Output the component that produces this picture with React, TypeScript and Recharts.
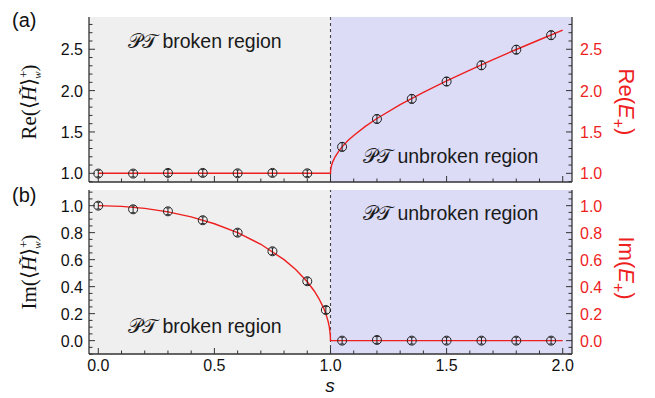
import React from "react";
import {
  ComposedChart,
  Line,
  Scatter,
  ErrorBar,
  XAxis,
  YAxis,
  ReferenceArea,
  ReferenceLine,
} from "recharts";

// measured points (a) Re part
const rePointS = [0, 0.15, 0.3, 0.45, 0.6, 0.75, 0.9, 1.05, 1.2, 1.35, 1.5, 1.65, 1.8, 1.95];
const reValues = [0.997, 0.997, 1.005, 1.005, 1.0, 1.005, 1.0, 1.32, 1.657, 1.9, 2.11, 2.306, 2.495, 2.67];
const reErrors = [0.04, 0.04, 0.04, 0.04, 0.04, 0.04, 0.04, 0.05, 0.05, 0.05, 0.05, 0.05, 0.05, 0.05];

// measured points (b) Im part
const imPointS = [0, 0.15, 0.3, 0.45, 0.6, 0.75, 0.9, 0.98, 1.05, 1.2, 1.35, 1.5, 1.65, 1.8, 1.95];
const imValues = [1.0, 0.973, 0.958, 0.892, 0.8, 0.662, 0.44, 0.227, 0.0, 0.005, 0.0, 0.0, 0.0, 0.0, 0.0];
const imErrors = [0.025, 0.025, 0.025, 0.025, 0.025, 0.025, 0.025, 0.025, 0.025, 0.025, 0.025, 0.025, 0.025, 0.025, 0.025];

// theory curves (red)
const reCurveS = [0, 0.5, 1.0, 1.0005, 1.002, 1.005, 1.01, 1.02, 1.035, 1.05, 1.075, 1.1, 1.15, 1.2, 1.3, 1.4, 1.5, 1.6, 1.7, 1.8, 1.9, 2.0];
const reCurveY = [1.0, 1.0, 1.0, 1.032, 1.063, 1.1, 1.142, 1.2, 1.266, 1.32, 1.396, 1.458, 1.568, 1.663, 1.831, 1.98, 2.118, 2.249, 2.375, 2.497, 2.615, 2.732];
const imCurveS = [0, 0.1, 0.2, 0.3, 0.4, 0.5, 0.6, 0.7, 0.8, 0.85, 0.9, 0.93, 0.95, 0.97, 0.98, 0.99, 0.995, 0.999, 1.0, 1.5, 2.0];
const imCurveY = [1.0, 0.995, 0.98, 0.954, 0.917, 0.866, 0.8, 0.714, 0.6, 0.527, 0.436, 0.368, 0.312, 0.243, 0.199, 0.141, 0.1, 0.045, 0.0, 0.0, 0.0];

// ticks
const xTicks = [0, 0.1, 0.2, 0.3, 0.4, 0.5, 0.6, 0.7, 0.8, 0.9, 1.0, 1.1, 1.2, 1.3, 1.4, 1.5, 1.6, 1.7, 1.8, 1.9, 2.0];
const reTicks = [0.9, 1.0, 1.1, 1.2, 1.3, 1.4, 1.5, 1.6, 1.7, 1.8, 1.9, 2.0, 2.1, 2.2, 2.3, 2.4, 2.5, 2.6, 2.7, 2.8];
const imTicks = [-0.1, -0.05, 0, 0.05, 0.1, 0.15, 0.2, 0.25, 0.3, 0.35, 0.4, 0.45, 0.5, 0.55, 0.6, 0.65, 0.7, 0.75, 0.8, 0.85, 0.9, 0.95, 1.0, 1.05, 1.1];

const xDomain = [-0.04, 2.04];
const reDomain = [0.895, 2.89];
const imDomain = [-0.099, 1.116];

const RED = "#ee1f1f";
const FRAME = "#333";
const TICK_FONT = "'Liberation Sans', Arial, sans-serif";

const pts = (s: number[], y: number[], e?: number[]) =>
  s.map((v, i) => ({ s: v, y: y[i], err: e ? e[i] : 0 }));

const isMajor = (v: number, step: number) =>
  Math.abs(v / step - Math.round(v / step)) < 1e-6;

const makeTick = (side: "bottom" | "top" | "left" | "right", step: number, labels: boolean, color = "#111", digits = 1) =>
  (props: any) => {
    const { x, y, payload } = props;
    const v = payload.value;
    const major = isMajor(v, step);
    const len = major ? 6 : 3.5;
    let line;
    let label = null;
    if (side === "bottom") {
      line = <line x1={x} x2={x} y1={y} y2={y - len} stroke={FRAME} strokeWidth={1} />;
      if (labels && major)
        label = <text x={x} y={y + 17} textAnchor="middle" fontSize={16} fontFamily={TICK_FONT} fill={color}>{v.toFixed(digits)}</text>;
    } else if (side === "top") {
      line = <line x1={x} x2={x} y1={y} y2={y + len} stroke={FRAME} strokeWidth={1} />;
    } else if (side === "left") {
      line = <line x1={x} x2={x + len} y1={y} y2={y} stroke={FRAME} strokeWidth={1} />;
      if (labels && major)
        label = <text x={x - 6} y={y + 6} textAnchor="end" fontSize={16} fontFamily={TICK_FONT} fill={color}>{v.toFixed(digits)}</text>;
    } else {
      line = <line x1={x} x2={x - len} y1={y} y2={y} stroke={FRAME} strokeWidth={1} />;
      if (labels && major)
        label = <text x={x + 8} y={y + 6} textAnchor="start" fontSize={16} fontFamily={TICK_FONT} fill={color}>{v.toFixed(digits)}</text>;
    }
    return (
      <g>
        {line}
        {label}
      </g>
    );
  };

const Marker = (p: any) => (
  <circle cx={p.cx} cy={p.cy} r={4.5} fill="none" stroke="#222" strokeWidth={1} />
);

type PanelProps = {
  height: number;
  marginTop: number;
  bottomAxisHeight: number;
  yDomain: number[];
  yTicks: number[];
  yStep: number;
  xLabels: boolean;
  curve: { s: number; y: number; err: number }[];
  points: { s: number; y: number; err: number }[];
};

const Panel = ({ height, marginTop, bottomAxisHeight, yDomain, yTicks, yStep, xLabels, curve, points }: PanelProps) => (
  <ComposedChart width={655} height={height} margin={{ top: marginTop, right: 0, bottom: 0, left: 0 }}>
    <XAxis xAxisId="b" type="number" dataKey="s" domain={xDomain} allowDataOverflow ticks={xTicks} interval={0}
      height={bottomAxisHeight} tickSize={0} tickMargin={0} tickLine={false}
      axisLine={{ stroke: FRAME, strokeWidth: 1.3 }} tick={makeTick("bottom", 0.5, xLabels)} />
    <XAxis xAxisId="t" orientation="top" type="number" dataKey="s" domain={xDomain} allowDataOverflow ticks={xTicks} interval={0}
      height={0} tickSize={0} tickMargin={0} tickLine={false}
      axisLine={{ stroke: FRAME, strokeWidth: 1.3 }} tick={makeTick("top", 0.5, false)} />
    <YAxis yAxisId="l" type="number" domain={yDomain} allowDataOverflow ticks={yTicks} interval={0}
      width={89} tickSize={0} tickMargin={0} tickLine={false}
      axisLine={{ stroke: FRAME, strokeWidth: 1.3 }} tick={makeTick("left", yStep, true)} />
    <YAxis yAxisId="r" orientation="right" type="number" domain={yDomain} allowDataOverflow ticks={yTicks} interval={0}
      width={83} tickSize={0} tickMargin={0} tickLine={false}
      axisLine={{ stroke: FRAME, strokeWidth: 1.3 }} tick={makeTick("right", yStep, true, RED)} />
    <ReferenceArea xAxisId="b" yAxisId="l" x1={xDomain[0]} x2={1} y1={yDomain[0]} y2={yDomain[1]} fill="#efefef" fillOpacity={1} stroke="none" />
    <ReferenceArea xAxisId="b" yAxisId="l" x1={1} x2={xDomain[1]} y1={yDomain[0]} y2={yDomain[1]} fill="#dcdcf7" fillOpacity={1} stroke="none" />
    <ReferenceLine xAxisId="b" yAxisId="l" x={1} stroke="#444" strokeDasharray="3 3" strokeWidth={1.1} />
    <Line xAxisId="b" yAxisId="l" data={curve} dataKey="y" type="linear" stroke={RED} strokeWidth={1.4} dot={false} isAnimationActive={false} />
    <Scatter xAxisId="b" yAxisId="l" data={points} dataKey="y" shape={Marker} isAnimationActive={false}>
      <ErrorBar dataKey="err" direction="y" width={2} stroke="#222" strokeWidth={1} />
    </Scatter>
  </ComposedChart>
);

const annot: React.CSSProperties = { fontFamily: TICK_FONT, fontSize: 19.5, fill: "#1a1a1a" };
const PT = () => (
  <tspan fontFamily="'DejaVu Sans', serif">𝒫𝒯</tspan>
);

export default function App() {
  return (
    <div style={{ position: "absolute", left: 0, top: 0, width: 655, height: 398, background: "#fff" }}>
      <div style={{ position: "absolute", left: 0, top: 0 }}>
        <Panel height={190} marginTop={17} bottomAxisHeight={8} yDomain={reDomain} yTicks={reTicks} yStep={0.5}
          xLabels={false} curve={pts(reCurveS, reCurveY)} points={pts(rePointS, reValues, reErrors)} />
      </div>
      <div style={{ position: "absolute", left: 0, top: 190 }}>
        <Panel height={208} marginTop={0} bottomAxisHeight={44} yDomain={imDomain} yTicks={imTicks} yStep={0.2}
          xLabels={true} curve={pts(imCurveS, imCurveY)} points={pts(imPointS, imValues, imErrors)} />
      </div>
      <svg width={655} height={398} style={{ position: "absolute", left: 0, top: 0, pointerEvents: "none" }}>
        <text x={12} y={27} fontFamily={TICK_FONT} fontSize={20} fill="#111">(a)</text>
        <text x={12} y={202} fontFamily={TICK_FONT} fontSize={20} fill="#111">(b)</text>

        <text x={128} y={48} style={annot}><PT /> broken region</text>
        <text x={363} y={163} style={annot}><PT /> unbroken region</text>
        <text x={363} y={220} style={annot}><PT /> unbroken region</text>
        <text x={128} y={333} style={annot}><PT /> broken region</text>

        <text transform="translate(36,102) rotate(-90)" textAnchor="middle" fontFamily="'Liberation Serif', serif" fontSize={21} fill="#111">
          Re(⟨<tspan fontStyle="italic">H̃</tspan>⟩<tspan fontSize={13} dy={-8}>+</tspan><tspan fontSize={11} fontStyle="italic" dx={-8} dy={13}>w</tspan><tspan dy={-5}>)</tspan>
        </text>
        <text transform="translate(36,272) rotate(-90)" textAnchor="middle" fontFamily="'Liberation Serif', serif" fontSize={21} fill="#111">
          Im(⟨<tspan fontStyle="italic">H̃</tspan>⟩<tspan fontSize={13} dy={-8}>+</tspan><tspan fontSize={11} fontStyle="italic" dx={-8} dy={13}>w</tspan><tspan dy={-5}>)</tspan>
        </text>

        <text transform="translate(619,102) rotate(90)" textAnchor="middle" fontFamily={TICK_FONT} fontSize={22} fill={RED}>
          Re(<tspan fontStyle="italic">E</tspan><tspan fontSize={16} dy={6}>+</tspan><tspan dy={-6}>)</tspan>
        </text>
        <text transform="translate(619,268) rotate(90)" textAnchor="middle" fontFamily={TICK_FONT} fontSize={22} fill={RED}>
          Im(<tspan fontStyle="italic">E</tspan><tspan fontSize={16} dy={6}>+</tspan><tspan dy={-6}>)</tspan>
        </text>

        <text x={330} y={392} textAnchor="middle" fontFamily={TICK_FONT} fontStyle="italic" fontSize={19} fill="#111">s</text>
      </svg>
    </div>
  );
}
